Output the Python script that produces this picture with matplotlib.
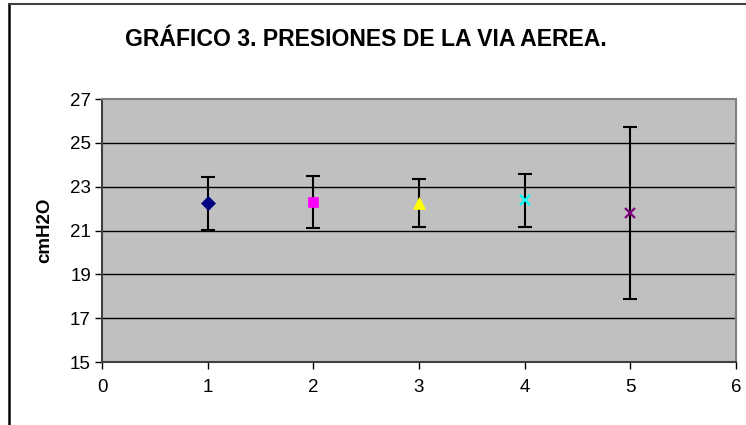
import matplotlib
matplotlib.use("Agg")
import matplotlib.pyplot as plt
from matplotlib.lines import Line2D

# data
x_pos = [1, 2, 3, 4, 5]
means = [22.24, 22.30, 22.25, 22.37, 21.80]
errs = [1.22, 1.20, 1.10, 1.21, 3.92]
markers = ["D", "s", "^", "x", "x"]
colors = ["#000080", "#FF00FF", "#FFFF00", "#00FFFF", "#800080"]
sizes = [7, 6.5, 8.5, 7, 7]

y_ticks = [15, 17, 19, 21, 23, 25, 27]
x_ticks = [0, 1, 2, 3, 4, 5, 6]

plt.rcParams["font.family"] = ["Liberation Sans", "DejaVu Sans"]

fig = plt.figure(figsize=(7.46, 4.25), dpi=100)
ax = fig.add_axes([102 / 746, 1 - 362 / 425, 634 / 746, 263 / 425])
ax.set_facecolor("#C0C0C0")

for y in y_ticks[1:-1]:
    ax.axhline(y, color="black", lw=1, zorder=1)

for i in range(len(x_pos)):
    ax.errorbar(x_pos[i], means[i], yerr=errs[i], fmt="none", ecolor="black",
                elinewidth=1.5, capsize=5, capthick=1.5, zorder=2)
    mew = 1.6 if markers[i] == "x" else 0.5
    ax.plot(x_pos[i], means[i], marker=markers[i], color=colors[i],
            markersize=sizes[i], markeredgewidth=mew, ls="none", zorder=3)

ax.set_xlim(0, 6)
ax.set_ylim(15, 27)
ax.set_xticks(x_ticks)
ax.set_yticks(y_ticks)
ax.tick_params(axis="both", direction="out", length=5, labelsize=13.5, width=1)
ax.tick_params(axis="x", pad=7)
ax.tick_params(axis="y", pad=3)

ax.spines["top"].set_color("#808080")
ax.spines["right"].set_color("#808080")
ax.spines["bottom"].set_color("#404040")
ax.spines["left"].set_color("#404040")
for s in ax.spines.values():
    s.set_linewidth(1.5)

ax.set_ylabel("cmH2O", fontsize=13.5, fontweight="bold", labelpad=12)

fig.text(366 / 746, 1 - 40 / 425, "GRÁFICO 3. PRESIONES DE LA VIA AEREA.",
         ha="center", va="center", fontsize=16.6, fontweight="bold")

# outer chart frame
fig.add_artist(Line2D([8.5 / 746, 8.5 / 746], [0, 1 - 4 / 425],
                      color="black", lw=1.8, transform=fig.transFigure))
fig.add_artist(Line2D([8.5 / 746, 1], [1 - 4 / 425, 1 - 4 / 425],
                      color="#404040", lw=1.5, transform=fig.transFigure))

fig.savefig("out.png", dpi=100)
